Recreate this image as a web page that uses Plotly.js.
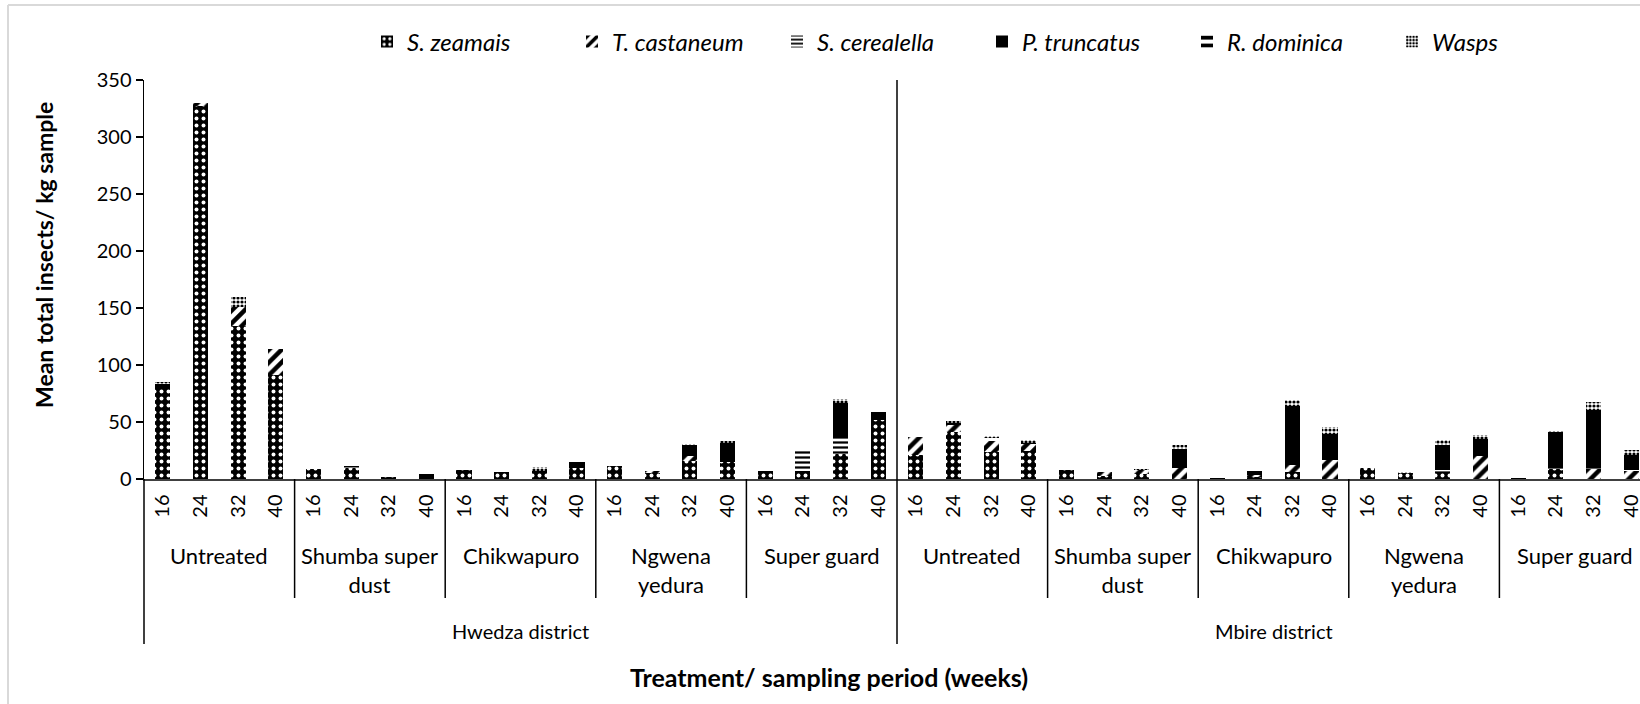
<!DOCTYPE html>
<html><head><meta charset="utf-8">
<script src="https://cdn.plot.ly/plotly-3.0.1.min.js"></script>
<style>html,body{margin:0;padding:0;overflow:hidden;background:#fff;width:1640px;height:704px;scrollbar-width:none}::-webkit-scrollbar{display:none;width:0;height:0}#chart{width:1650px;height:704px}</style>
</head><body><div id="chart"></div>
<script>
// ---- data ----
const districts = ['Hwedza district', 'Mbire district'];
const treatments = ['Untreated', 'Shumba super<br>dust', 'Chikwapuro', 'Ngwena<br>yedura', 'Super guard'];
const weeks = ['16', '24', '32', '40'];
const seriesNames = ['S. zeamais', 'T. castaneum', 'S. cerealella', 'P. truncatus', 'R. dominica', 'Wasps'];

// order: Hwedza (Untreated, Shumba, Chikwapuro, Ngwena, Super guard) then Mbire, weeks 16,24,32,40
const sZeamais   = [81, 327, 134, 91,   9, 10, 1.5, 0,   7.5, 6, 7, 9.5,   11, 5.5, 16, 14.5,   7, 6.7, 22, 52,
                    21, 41, 24, 25,     7.5, 3, 4, 0,    1, 1.5, 6, 0,     10, 5, 6, 0,        1, 9, 0, 0];
const tCastaneum = [0, 3, 17, 23,       0, 0, 0, 0,      0, 0, 0, 0,       0, 1.5, 4, 0,       0, 0, 0, 0,
                    16, 6, 9, 6,        0, 3.5, 4, 9.5,  0, 2, 6, 17,      0, 0, 0, 20.4,      0, 0, 9, 7];
const sCerealella= [0, 0, 0, 0,         0, 0, 0, 0,      0, 0, 0, 0,       0, 0, 0, 0,         0, 17.5, 15, 0,
                    0, 0, 0, 0,         0, 0, 0, 0,      0, 0, 0, 0,       0, 0, 2, 0,         0, 1, 1, 1];
const pTruncatus = [0, 0, 0, 0,         0, 0, 0, 4.4,    0, 0, 0, 5,       0, 0, 10, 17,       0, 0, 30, 7,
                    0, 0, 0, 0,         0, 0, 0, 17,     0, 3.5, 52, 22.5, 0, 0, 22, 15,       0, 31, 50.5, 13];
const rDominica  = [2, 0, 0, 0,         0, 1, 0.5, 0,    0, 1, 0, 0,       0, 0.5, 0, 0.5,     0, 0, 0, 0,
                    0, 2, 3, 1,         0, 1, 0, 0,      0, 1, 0, 0,       0, 0, 0, 0,         0, 0, 0, 0];
const wasps      = [2, 0, 9, 0,         0, 0, 0, 0,      0, 0, 3.5, 0,     0, 0, 1, 1,         0, 0, 3.5, 0,
                    0, 2, 2, 2,         0, 0, 1, 3,      0, 0, 5, 6,       0, 1, 4, 3.5,       0, 1, 7, 4.5];
const seriesValues = [sZeamais, tCastaneum, sCerealella, pTruncatus, rDominica, wasps];

// ---- build category positions ----
const pos = [], tickText = [];
districts.forEach(() => treatments.forEach(() => weeks.forEach(w => {
  pos.push(pos.length); tickText.push(w);
})));
const nW = weeks.length, nT = treatments.length;

const styles = [
  {color: '#000000', pattern: {shape: '.', fgcolor: '#ffffff', bgcolor: '#000000', size: 7, solidity: 0.25}},
  {color: '#ffffff', pattern: {shape: '/', fgcolor: '#000000', bgcolor: '#ffffff', size: 9, solidity: 0.5}},
  {color: '#ffffff', pattern: {shape: '-', fgcolor: '#000000', bgcolor: '#ffffff', size: 5, solidity: 0.45}},
  {color: '#000000'},
  {color: '#ffffff', pattern: {shape: '-', fgcolor: '#000000', bgcolor: '#ffffff', size: 10, solidity: 0.5}},
  {color: '#ffffff', pattern: {shape: '.', fgcolor: '#000000', bgcolor: '#ffffff', size: 4, solidity: 0.5}}
];

const traces = seriesNames.map((n, i) => ({
  type: 'bar', name: '<i>' + n + '</i>', x: pos, y: seriesValues[i],
  marker: Object.assign({line: {width: 0}}, styles[i]),
  hoverinfo: 'skip'
}));

const W = 1650, L = 144;
const FONT = 'Lato, "Open Sans", sans-serif';
const plotW = W - L;
const plotH = 704 - 80 - 225;          // plot height in px
const py = px => (479 - px) / plotH;    // convert page y to paper y
const pxX = px => (px - L) / plotW;     // convert page x to paper x

const shapes = [];
const annotations = [];
for (let d = 0; d < districts.length; d++) {
  for (let t = 0; t < nT; t++) {
    const start = (d * nT + t) * nW;
    annotations.push({xref: 'x', yref: 'paper', x: start + (nW - 1) / 2, y: py(540),
      xanchor: 'center', yanchor: 'top', text: treatments[t], showarrow: false,
      font: {family: FONT, size: 22, color: '#000'}});
    if (t > 0) shapes.push({type: 'line', xref: 'x', yref: 'paper', x0: start - 0.5, x1: start - 0.5,
      y0: 0, y1: py(598), line: {color: '#000', width: 1.5}});
  }
  const dStart = d * nT * nW;
  annotations.push({xref: 'x', yref: 'paper', x: dStart + (nT * nW - 1) / 2, y: py(631),
    xanchor: 'center', yanchor: 'middle', text: districts[d], showarrow: false,
    font: {family: FONT, size: 20, color: '#000'}});
  if (d > 0) shapes.push({type: 'line', xref: 'x', yref: 'paper', x0: dStart - 0.5, x1: dStart - 0.5,
    y0: 1, y1: py(644), line: {color: '#000', width: 1.5}});
}
// left district line below the axis
shapes.push({type: 'line', xref: 'x domain', yref: 'paper', x0: 0, x1: 0, y0: 0, y1: py(644),
  line: {color: '#000', width: 1.5}});
// chart area border (left and top edges visible)
shapes.push({type: 'line', xref: 'paper', yref: 'paper', x0: pxX(8), x1: pxX(8), y0: py(5), y1: py(710),
  line: {color: '#d9d9d9', width: 2}});
shapes.push({type: 'line', xref: 'paper', yref: 'paper', x0: pxX(8), x1: pxX(1660), y0: py(5), y1: py(5),
  line: {color: '#d9d9d9', width: 2}});

annotations.push({xref: 'paper', yref: 'paper', x: pxX(44), y: py(255), textangle: -90,
  text: '<b>Mean total insects/ kg sample</b>', showarrow: false, xanchor: 'center', yanchor: 'middle',
  font: {family: FONT, size: 23, color: '#000'}});
annotations.push({xref: 'paper', yref: 'paper', x: pxX(829), y: py(677),
  text: '<b>Treatment/ sampling period (weeks)</b>', showarrow: false, xanchor: 'center', yanchor: 'middle',
  font: {family: FONT, size: 25, color: '#000'}});

const layout = {
  width: W, height: 704,
  margin: {l: L, r: 0, t: 80, b: 225, autoexpand: false},
  barmode: 'stack', bargap: 0.6,
  paper_bgcolor: '#fff', plot_bgcolor: '#fff',
  font: {family: FONT, color: '#000', size: 20},
  showlegend: true,
  legend: {orientation: 'h', x: pxX(367), xanchor: 'left', y: py(42), yanchor: 'middle',
    entrywidth: 160, entrywidthmode: 'pixels', traceorder: 'normal',
    font: {family: FONT, size: 24, color: '#000'}, bgcolor: 'rgba(0,0,0,0)'},
  xaxis: {type: 'linear', range: [-0.5, 39.5], tickvals: pos, ticktext: tickText, tickangle: -90,
    ticks: '', ticklabelstandoff: 6, ticklabeloverflow: 'allow',
    showline: true, linecolor: '#404040', linewidth: 1.5, showgrid: false, zeroline: false,
    tickfont: {family: FONT, size: 20, color: '#000'}, fixedrange: true},
  yaxis: {range: [0, 350], dtick: 50, ticks: 'outside', ticklen: 7, tickwidth: 1.5, tickcolor: '#000',
    showline: true, linecolor: '#000', linewidth: 1.5, showgrid: false, zeroline: false,
    tickfont: {family: FONT, size: 20, color: '#000'}, fixedrange: true},
  shapes: shapes, annotations: annotations
};

Plotly.newPlot('chart', traces, layout, {staticPlot: true, displayModeBar: false});
</script>
</body></html>
